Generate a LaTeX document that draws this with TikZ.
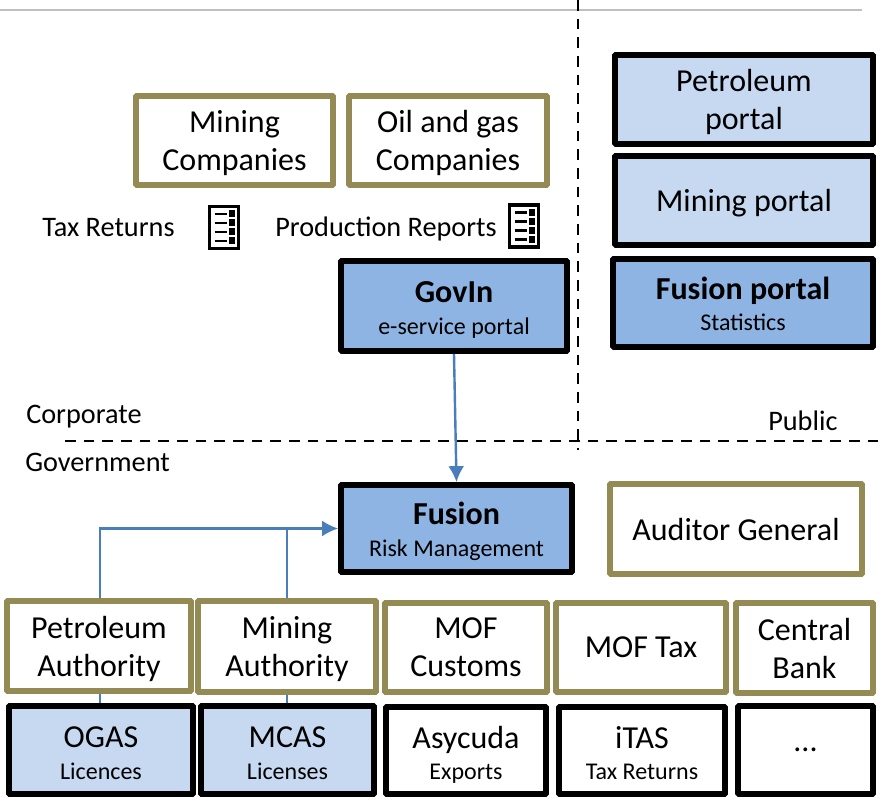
\documentclass[tikz,border=0pt]{standalone}
\usepackage{fontspec}
\setmainfont{Carlito}
\usetikzlibrary{arrows.meta}
\definecolor{olivebd}{HTML}{948A54}
\definecolor{lightblue}{HTML}{C6D9F1}
\definecolor{midblue}{HTML}{8EB4E3}
\definecolor{linkblue}{HTML}{4A7EBB}
\newcommand{\mainsz}{\fontsize{24}{28.5}\selectfont}
\newcommand{\subsz}{\fontsize{18}{20}\selectfont}
\newcommand{\lblsz}{\fontsize{21.2}{25}\selectfont}
\newcommand{\toppad}[1]{\rule{0pt}{#1pt}}
\tikzset{
  box/.style={draw, line width=4.3pt, rounded corners=0.6pt, align=center, inner sep=0pt, font=\mainsz, text depth=0pt},
  org/.style={box, draw=olivebd, fill=white},
  sys/.style={box, draw=black, fill=white},
  lsys/.style={box, draw=black, fill=lightblue},
  msys/.style={box, draw=black, fill=midblue},
  link/.style={draw=linkblue, line width=1.8pt},
  linkarrow/.style={link, -{Latex[length=12pt,width=12pt]}},
  lbl/.style={inner sep=0pt, font=\lblsz, anchor=base west},
  divider/.style={line width=2pt, dash pattern=on 8pt off 6pt},
  docicon/.pic={
    \draw[line width=2.4pt, fill=white] (-14.5,-21) rectangle (14.5,21);
    \foreach \yy in {-13.5,-4.5,4.5,13.5}{
      \draw[line width=1.7pt] (-9.5,\yy) -- (3,\yy);
      \fill (5,\yy-3.5) rectangle (10.5,\yy+3.5);
    }
  }
}
\newcommand{\bx}[8]{% style, name, x1,y1,x2,y2, unused, text
  \pgfmathsetmacro{\cx}{(#3+#5)/2}\pgfmathsetmacro{\cy}{(#4+#6)/2}
  \pgfmathsetmacro{\ww}{(#5-#3)*0.75}\pgfmathsetmacro{\hh}{(#6-#4)*0.75}
  \node[#1, minimum width=\ww pt, minimum height=\hh pt] (#2) at (\cx,\cy) {#8};
}
\newcommand{\sub}[1]{{\subsz #1}}
\begin{document}
\begin{tikzpicture}[x=0.75pt,y=-0.75pt]
\useasboundingbox (0,0) rectangle (883,798);
\fill[white] (0,0) rectangle (883,798);
\coordinate (ruleL) at (0,10); \coordinate (ruleR) at (862,10);
\draw[draw=black!25, line width=1.9pt] (ruleL) -- (ruleR);
\coordinate (vdT) at (578,0); \coordinate (vdB) at (578,450);
\coordinate (hdL) at (65,441); \coordinate (hdR) at (883,441);
\draw[divider] (vdT) -- (vdB);
\draw[divider] (hdL) -- (hdR);

\bx{org}{mc}{136}{96}{333}{185}{}{Mining\\Companies}
\bx{org}{oc}{349}{96}{547}{185}{}{Oil and gas\\Companies}
\bx{msys}{gov}{341}{261}{567}{351}{}{\toppad{19}\textbf{GovIn}\\[-5pt]\sub{e-service portal}}
\bx{msys}{fus}{341}{485}{572}{572}{}{\toppad{18}\textbf{Fusion}\\[-5pt]\sub{Risk Management}}
\bx{org}{aud}{610}{484}{862}{574}{}{Auditor General}
\bx{lsys}{pp}{615}{55}{873}{144}{}{Petroleum\\portal}
\bx{lsys}{mp}{615}{156}{873}{245}{}{Mining portal}
\bx{msys}{fp}{613}{259}{873}{347}{}{\toppad{18}\textbf{Fusion portal}\\[-5pt]\sub{Statistics}}
\bx{org}{pa}{7}{601}{191}{691}{}{Petroleum\\Authority}
\bx{org}{ma}{198}{601}{376}{692}{}{Mining\\Authority}
\bx{org}{mo}{385}{603}{547}{692}{}{MOF\\Customs}
\bx{org}{mt}{556}{603}{726}{692}{}{MOF Tax}
\bx{org}{cb}{736}{603}{873}{693}{}{Central\\Bank}
\bx{lsys}{og}{9}{706}{193}{794}{}{\toppad{20}OGAS\\[-5pt]\sub{Licences}}
\bx{lsys}{mc2}{201}{706}{374}{794}{}{\toppad{20}MCAS\\[-5pt]\sub{Licenses}}
\bx{sys}{as}{386}{707}{546}{794}{}{\toppad{20}Asycuda\\[-5pt]\sub{Exports}}
\bx{sys}{it}{559}{707}{725}{794}{}{\toppad{20}iTAS\\[-5pt]\sub{Tax Returns}}
\bx{sys}{dots}{738}{706}{873}{794}{}{...}

\node[lbl] (t1) at (42,237) {Tax Returns};
\node[lbl] (t2) at (275,237) {Production Reports};
\node[lbl] (t3) at (26,424) {Corporate};
\node[lbl] (t4) at (25,472) {Government};
\node[lbl] (t5) at (768,431) {Public};
\pic at (224,227.5) {docicon};
\pic at (524,226) {docicon};

\draw[linkarrow] (gov.south) -- (fus.north);
\draw[linkarrow] ([xshift=0.8pt]pa.north) |- (fus.west);
\draw[link] (ma.north) -- (ma.north |- fus.west);
\draw[link] ([xshift=0.8pt]pa.south) -- ([xshift=0.8pt]og.north -| pa.south);
\draw[link] (ma.south) -- (mc2.north -| ma.south);
\end{tikzpicture}
\end{document}
